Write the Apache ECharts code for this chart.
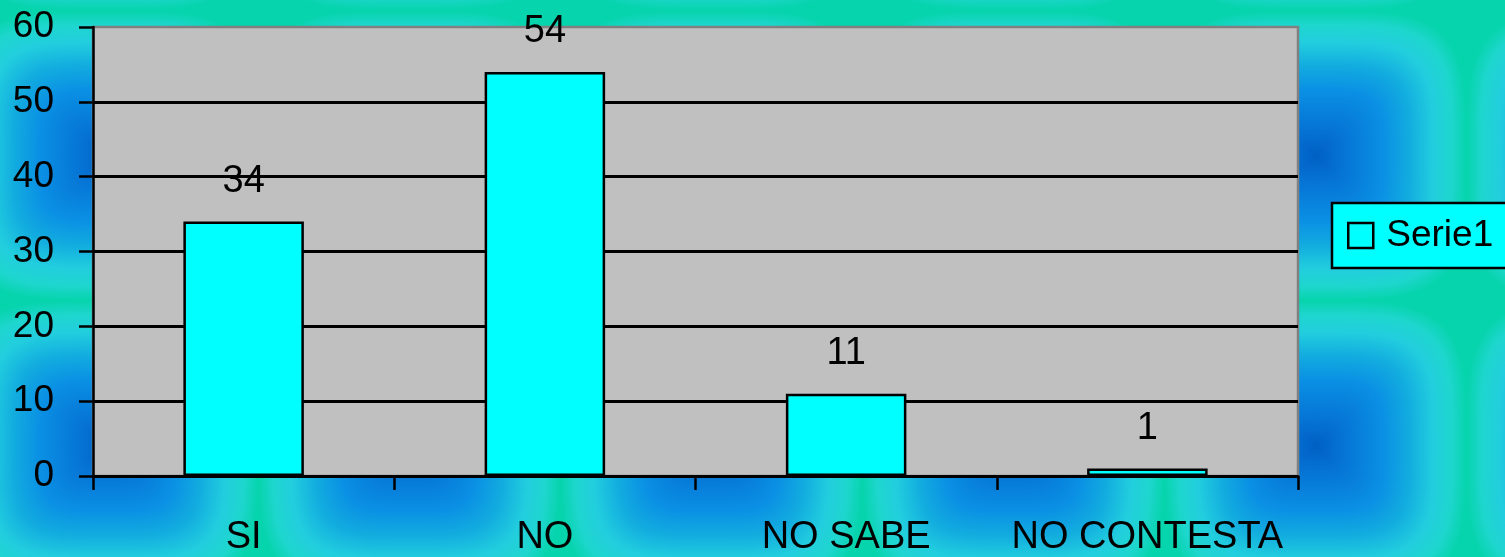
<!DOCTYPE html>
<html>
<head>
<meta charset="utf-8">
<script src="https://cdn.jsdelivr.net/npm/echarts@6/dist/echarts.min.js"></script>
<style>
  html, body { margin: 0; padding: 0; width: 1505px; height: 557px; overflow: hidden; }
  #bg { position: absolute; left: 0; top: 0; }
  #chart { position: absolute; left: 0; top: 0; width: 1505px; height: 557px; }
</style>
</head>
<body>
<canvas id="bg" width="1505" height="557"></canvas>
<div id="chart"></div>
<script>
// ---- data ----
const categories = ['SI', 'NO', 'NO SABE', 'NO CONTESTA'];
const serieName = 'Serie1';
const serieValues = [34, 54, 11, 1];
const yTicks = { min: 0, max: 60, interval: 10 };

// ---- decorative tiled background (soft pyramid gradient) ----
(function () {
  const cv = document.getElementById('bg');
  const ctx = cv.getContext('2d');
  const W = cv.width, H = cv.height;
  const img = ctx.createImageData(W, H);
  const tw = 302, th = 290, cx0 = 107, cy0 = 155;
  const stops = [
    [0.00, [0, 96, 196]],
    [0.20, [6, 118, 214]],
    [0.45, [10, 144, 228]],
    [0.62, [18, 172, 223]],
    [0.78, [34, 206, 222]],
    [0.90, [30, 214, 206]],
    [1.00, [6, 212, 172]]
  ];
  function col(t) {
    if (t > 1) t = 1;
    for (let i = 1; i < stops.length; i++) {
      if (t <= stops[i][0]) {
        const a = stops[i - 1], b = stops[i];
        const f = (t - a[0]) / (b[0] - a[0]);
        return [0, 1, 2].map(k => a[1][k] + (b[1][k] - a[1][k]) * f);
      }
    }
    return stops[stops.length - 1][1];
  }
  const p = 4;
  for (let y = 0; y < H; y++) {
    let dy = ((y - cy0) % th + th) % th; if (dy > th / 2) dy = th - dy;
    const ty = dy / (th / 2);
    for (let x = 0; x < W; x++) {
      let dx = ((x - cx0) % tw + tw) % tw; if (dx > tw / 2) dx = tw - dx;
      const tx = dx / (tw / 2);
      const t = Math.pow(Math.pow(tx, p) + Math.pow(ty, p), 1 / p);
      const c = col(Math.max(t, Math.max(tx, ty)));
      const i = (y * W + x) * 4;
      img.data[i] = c[0]; img.data[i + 1] = c[1]; img.data[i + 2] = c[2]; img.data[i + 3] = 255;
    }
  }
  ctx.putImageData(img, 0, 0);
})();

// ---- chart ----
const chart = echarts.init(document.getElementById('chart'), null, { renderer: 'canvas' });
const FONT = '"Liberation Sans", Arial, sans-serif';
chart.setOption({
  backgroundColor: 'transparent',
  animation: false,
  textStyle: { fontFamily: FONT, color: '#000' },
  grid: {
    left: 93, right: 207, top: 27, bottom: 78,
    show: true, backgroundColor: '#c0c0c0', borderColor: '#808080', borderWidth: 2.5
  },
  legend: {
    left: 1332, top: 203,
    data: [serieName],
    icon: 'rect',
    itemWidth: 25, itemHeight: 25,
    padding: [14, 30, 14, 15],
    backgroundColor: '#00ffff',
    borderColor: '#000', borderWidth: 2.5,
    itemStyle: { color: '#00ffff', borderColor: '#000', borderWidth: 2.5 },
    textStyle: { fontSize: 37, color: '#000', fontFamily: FONT, padding: [0, 0, 0, 8] }
  },
  xAxis: {
    type: 'category',
    data: categories,
    boundaryGap: true,
    axisLine: { show: true, lineStyle: { color: '#000', width: 3 } },
    axisTick: { show: true, length: 14, inside: false, lineStyle: { color: '#000', width: 2.5 } },
    axisLabel: { fontSize: 38, color: '#000', margin: 43, interval: 0, fontFamily: FONT }
  },
  yAxis: {
    type: 'value',
    min: yTicks.min, max: yTicks.max, interval: yTicks.interval,
    axisLine: { show: true, lineStyle: { color: '#000', width: 2.5 } },
    axisTick: { show: true, length: 14, lineStyle: { color: '#000', width: 2.5 } },
    axisLabel: { fontSize: 37, color: '#000', margin: 39, fontFamily: FONT },
    splitLine: { show: true, showMinLine: false, showMaxLine: false, lineStyle: { color: '#000', width: 3 } }
  },
  series: [{
    name: serieName,
    type: 'bar',
    data: serieValues,
    barWidth: '40%',
    itemStyle: { color: '#00ffff', borderColor: '#000', borderWidth: 2.5 },
    label: {
      show: true, position: 'top', distance: 21,
      fontSize: 38, color: '#000', fontFamily: FONT
    }
  }]
});
</script>
</body>
</html>
